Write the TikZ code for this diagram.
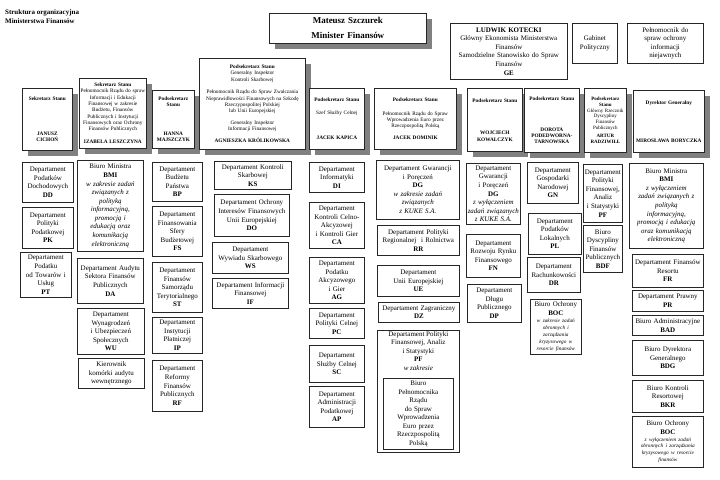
\documentclass[tikz,border=0pt]{standalone}
\usepackage{fontspec}
\setmainfont{Liberation Serif}
\usetikzlibrary{positioning,shadows}

\newcommand\deptfont{\fontsize{7}{8.6}\selectfont}
\newcommand\headfont{\fontsize{5.3}{6.3}\selectfont}
\newcommand\bocfont{\fontsize{5.3}{7}\selectfont}
\newcommand\orgtitlefont{\fontsize{7}{9}\selectfont\bfseries}
\newcommand\ministerfont{\fontsize{9}{11}\selectfont\bfseries}

\begin{document}
\begin{tikzpicture}[
    x=1bp, y=-1bp,
    box/.style={
        rectangle,
        draw=black!85,
        line width=0.7bp,
        fill=white,
        align=center,
        anchor=north west,
        inner sep=1bp,
        font=\deptfont
    },
    head/.style={
        box,
        font=\headfont,
        drop shadow={shadow xshift=6bp, shadow yshift=-6bp, fill=black!50, opacity=1}
    },
    note/.style={
        align=center,
        inner sep=1bp,
        font=\deptfont
    }
]

\fill[white] (0,0) rectangle (720,480);
\useasboundingbox (0,0) rectangle (720,480);

% Title
\node[note, align=left, anchor=north west, font=\orgtitlefont] (title) at (4,8) {Struktura organizacyjna\\Ministerstwa Finansów};

% Minister and offices
\node[head, font=\ministerfont, text width=155bp, minimum height=30bp] (minister) at (269,13) {Mateusz Szczurek\\[4bp]Minister Finansów};
\node[box, text width=115bp, minimum height=56bp] (GE) at (450,23) {\textbf{LUDWIK KOTECKI}\\Główny Ekonomista Ministerstwa\\Finansów\\Samodzielne Stanowisko do Spraw\\Finansów\\\textbf{GE}};
\node[box, text width=43bp, minimum height=40bp] (gabinet) at (572,23) {Gabinet\\Polityczny};
\node[box, text width=74bp, minimum height=40bp] (ochrona) at (627,23) {Pełnomocnik do\\spraw ochrony\\informacji\\niejawnych};

% Secretaries row
\node[head, text width=48bp, minimum height=62bp] (cichon) at (22,88) {\textbf{Sekretarz Stanu}\\[28.7bp]\textbf{JANUSZ}\\\textbf{CICHOŃ}};
\node[head, text width=65bp, minimum height=70bp] (leszczyna) at (79,78) {\textbf{Sekretarz Stanu}\\Pełnomocnik Rządu do spraw\\Informacji i Edukacji\\Finansowej w zakresie\\Budżetu, Finansów\\Publicznych i Instytucji\\Finansowych oraz Ochrony\\Finansów Publicznych\\[6.7bp]\textbf{IZABELA LESZCZYNA}};
\node[head, text width=40bp, minimum height=58bp] (majszczyk) at (152,90) {\textbf{Podsekretarz}\\\textbf{Stanu}\\[22.7bp]\textbf{HANNA}\\\textbf{MAJSZCZYK}};
\node[head, text width=104bp, minimum height=91bp] (krolikowska) at (199,58) {\textbf{Podsekretarz Stanu}\\Generalny Inspektor\\Kontroli Skarbowej\\[6.5bp]Pełnomocnik Rządu do Spraw Zwalczania\\Nieprawidłowości Finansowych na Szkodę\\Rzeczypospolitej Polskiej\\lub Unii Europejskiej\\[5.5bp]Generalny Inspektor\\Informacji Finansowej\\[5.5bp]\textbf{AGNIESZKA KRÓLIKOWSKA}};
\node[head, text width=53bp, minimum height=61bp] (kapica) at (309,88) {\textbf{Podsekretarz Stanu}\\[6.7bp]Szef Służby Celnej\\[18.7bp]\textbf{JACEK KAPICA}};
\node[head, text width=80bp, minimum height=61bp] (dominik) at (374,88) {\textbf{Podsekretarz Stanu}\\[7.7bp]Pełnomocnik Rządu do Spraw\\Wprowadzenia Euro przez\\Rzeczpospolitą Polską\\[5.7bp]\textbf{JACEK DOMINIK}};
\node[head, text width=53bp, minimum height=63bp] (kowalczyk) at (467,88) {\textbf{Podsekretarz Stanu}\\[26.7bp]\textbf{WOJCIECH}\\\textbf{KOWALCZYK}};
\node[head, text width=53bp, minimum height=64bp] (podedworna) at (524,88) {\textbf{Podsekretarz Stanu}\\[24.7bp]\textbf{DOROTA}\\\textbf{PODEDWORNA-}\\\textbf{TARNOWSKA}};
\node[head, font=\fontsize{5}{5.7}\selectfont, text width=40bp, minimum height=64bp] (radziwill) at (584,88) {\textbf{Podsekretarz}\\\textbf{Stanu}\\Główny Rzecznik\\Dyscypliny\\Finansów\\Publicznych\\[3bp]\textbf{ARTUR}\\\textbf{RADZIWIŁŁ}};
\node[head, text width=69bp, minimum height=62bp] (boryczka) at (633,90) {\textbf{Dyrektor Generalny}\\[31.7bp]\textbf{MIROSŁAWA BORYCZKA}};

% Cichoń
\node[box, text width=49bp, minimum height=40bp] (DD) at (22,162) {Departament\\Podatków\\Dochodowych\\\textbf{DD}};
\node[box, text width=49bp, minimum height=41bp] (PK) at (22,207) {Departament\\Polityki\\Podatkowej\\\textbf{PK}};
\node[box, text width=49bp, minimum height=45bp] (PT) at (20,252) {Departament\\Podatku\\od Towarów i\\Usług\\\textbf{PT}};

% Leszczyna
\node[box, text width=64bp, minimum height=91bp] (BMIa) at (77,160) {Biuro Ministra\\\textbf{BMI}\\{\itshape w zakresie zadań\\związanych z\\polityką\\informacyjną,\\promocją i\\edukacją oraz\\komunikacją\\elektroniczną}};
\node[box, text width=64bp, minimum height=45bp] (DA) at (77,258) {Departament Audytu\\Sektora Finansów\\Publicznych\\\textbf{DA}};
\node[box, text width=65bp, minimum height=46bp] (WU) at (77,308) {Departament\\Wynagrodzeń\\i Ubezpieczeń\\Społecznych\\\textbf{WU}};
\node[box, text width=64bp, minimum height=30bp] (audyt) at (78,358) {Kierownik\\komórki audytu\\wewnętrznego};

% Majszczyk
\node[box, text width=48bp, minimum height=39bp] (BP) at (152,162) {Departament\\Budżetu\\Państwa\\\textbf{BP}};
\node[box, text width=48bp, minimum height=50bp] (FS) at (152,206) {Departament\\Finansowania\\Sfery\\Budżetowej\\\textbf{FS}};
\node[box, text width=48bp, minimum height=50bp] (ST) at (152,262) {Departament\\Finansów\\Samorządu\\Terytorialnego\\\textbf{ST}};
\node[box, text width=48bp, minimum height=36bp] (IP) at (152,317) {Departament\\Instytucji\\Płatniczej\\\textbf{IP}};
\node[box, text width=48bp, minimum height=51bp] (RF) at (152,360) {Departament\\Reformy\\Finansów\\Publicznych\\\textbf{RF}};

% Królikowska
\node[box, text width=75bp, minimum height=28bp] (KS) at (214,161) {Departament Kontroli\\Skarbowej\\\textbf{KS}};
\node[box, text width=73bp, minimum height=42bp] (DO) at (214,194) {Departament Ochrony\\Interesów Finansowych\\Unii Europejskiej\\\textbf{DO}};
\node[box, text width=74bp, minimum height=31bp] (WS) at (212,242) {Departament\\Wywiadu Skarbowego\\\textbf{WS}};
\node[box, text width=74bp, minimum height=30bp] (IF) at (212,278) {Departament Informacji\\Finansowej\\\textbf{IF}};

% Kapica
\node[box, text width=53bp, minimum height=30bp] (DI) at (309,162) {Departament\\Informatyki\\\textbf{DI}};
\node[box, text width=53bp, minimum height=46bp] (CA) at (309,202) {Departament\\Kontroli Celno-\\Akcyzowej\\i Kontroli Gier\\\textbf{CA}};
\node[box, text width=53bp, minimum height=46bp] (AG) at (309,257) {Departament\\Podatku\\Akcyzowego\\i Gier\\\textbf{AG}};
\node[box, text width=53bp, minimum height=30bp] (PC) at (309,308) {Departament\\Polityki Celnej\\\textbf{PC}};
\node[box, text width=53bp, minimum height=37bp] (SC) at (309,345) {Departament\\Służby Celnej\\\textbf{SC}};
\node[box, text width=53bp, minimum height=41bp] (AP) at (309,386) {Departament\\Administracji\\Podatkowej\\\textbf{AP}};

% Dominik
\node[box, text width=81bp, minimum height=59bp] (DGa) at (376,160) {Departament Gwarancji\\i Poręczeń\\\textbf{DG}\\{\itshape w zakresie zadań\\związanych\\z KUKE S.A.}};
\node[box, text width=80bp, minimum height=30bp] (RR) at (377,225) {Departament Polityki\\Regionalnej\ \ i Rolnictwa\\\textbf{RR}};
\node[box, text width=80bp, minimum height=31bp] (UE) at (377,265) {Departament\\Unii Europejskiej\\\textbf{UE}};
\node[box, text width=79bp, minimum height=20bp] (DZ) at (378,302) {Departament Zagraniczny\\\textbf{DZ}};
\node[box, minimum width=82bp, minimum height=122bp] (PFa) at (377,330) {};
\node[note, below=0bp of PFa.north] (PFtext) {Departament Polityki\\Finansowej, Analiz\\i Statystyki\\\textbf{PF}\\\textit{w zakresie}};
\node[box, text width=68bp, minimum height=71bp, above=3bp of PFa.south] (euro) {Biuro\\Pełnomocnika\\Rządu\\do Spraw\\Wprowadzenia\\Euro przez\\Rzeczpospolitą\\Polską};

% Kowalczyk
\node[box, text width=52bp, minimum height=61bp] (DGb) at (466,163) {Departament\\Gwarancji\\i Poręczeń\\\textbf{DG}\\{\itshape z wyłączeniem\\zadań związanych\\z KUKE S.A.}};
\node[box, text width=52bp, minimum height=43bp] (FN) at (466,234) {Departament\\Rozwoju Rynku\\Finansowego\\\textbf{FN}};
\node[box, text width=52bp, minimum height=38bp] (DP) at (467,284) {Departament\\Długu\\Publicznego\\\textbf{DP}};

% Podedworna-Tarnowska
\node[box, text width=49bp, minimum height=41bp] (GN) at (527,162) {Departament\\Gospodarki\\Narodowej\\\textbf{GN}};
\node[box, text width=51bp, minimum height=41bp] (PL) at (528,213) {Departament\\Podatków\\Lokalnych\\\textbf{PL}};
\node[box, text width=51bp, minimum height=35bp] (DR) at (527,257) {Departament\\Rachunkowości\\\textbf{DR}};
\node[box, text width=49bp, minimum height=55bp] (BOCa) at (530,299) {Biuro Ochrony\\\textbf{BOC}\\{\itshape\bocfont w zakresie zadań\\obronnych i\\zarządzania\\kryzysowego w\\resorcie finansów\par}};

% Radziwiłł
\node[box, text width=37bp, minimum height=58bp] (PFb) at (583,164) {Departament\\Polityki\\Finansowej,\\Analiz\\i Statystyki\\\textbf{PF}};
\node[box, text width=37bp, minimum height=47bp] (BDF) at (583,225) {Biuro\\Dyscypliny\\Finansów\\Publicznych\\\textbf{BDF}};

% Boryczka
\node[box, text width=72bp, minimum height=85bp] (BMIb) at (629,163) {Biuro Ministra\\\textbf{BMI}\\{\itshape z wyłączeniem\\zadań związanych z\\polityką\\informacyjną,\\promocją i edukacją\\oraz komunikacją\\elektroniczną}};
\node[box, text width=69bp, minimum height=33bp] (FR) at (632,254) {Departament Finansów\\Resortu\\\textbf{FR}};
\node[box, text width=69bp, minimum height=21bp] (PR) at (632,290) {Departament Prawny\\\textbf{PR}};
\node[box, text width=69bp, minimum height=20bp] (BAD) at (632,315) {Biuro Administracyjne\\\textbf{BAD}};
\node[box, text width=69bp, minimum height=35bp] (BDG) at (632,340) {Biuro Dyrektora\\Generalnego\\\textbf{BDG}};
\node[box, text width=69bp, minimum height=32bp] (BKR) at (632,380) {Biuro Kontroli\\Resortowej\\\textbf{BKR}};
\node[box, text width=69bp, minimum height=51bp] (BOCb) at (632,416) {Biuro Ochrony\\\textbf{BOC}\\{\itshape\bocfont z wyłączeniem zadań\\obronnych i zarządzania\\kryzysowego w resorcie\\finansów\par}};

\end{tikzpicture}
\end{document}
